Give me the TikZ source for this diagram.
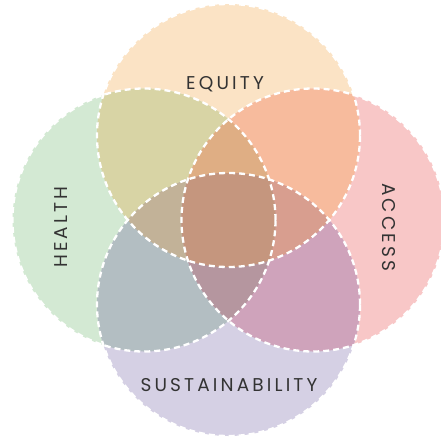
\documentclass[tikz,border=0pt]{standalone}
\usepackage{fontspec}
\newfontfamily\lblfont{Poppins}[LetterSpace=17]
\definecolor{cE}{HTML}{FBE3C5}
\definecolor{cH}{HTML}{D3E9D3}
\definecolor{cA}{HTML}{F8C7C7}
\definecolor{cS}{HTML}{D5D0E4}
\definecolor{cEH}{HTML}{D8D4A5}
\definecolor{cEA}{HTML}{F7BB9D}
\definecolor{cHS}{HTML}{B3BEC2}
\definecolor{cAS}{HTML}{CFA3BB}
\definecolor{cEHA}{HTML}{DFAE84}
\definecolor{cEHS}{HTML}{C2B298}
\definecolor{cEAS}{HTML}{D89E8F}
\definecolor{cHAS}{HTML}{B5969F}
\definecolor{cAll}{HTML}{C5967E}
\definecolor{txt}{HTML}{333333}
\begin{document}
\begin{tikzpicture}[x=1pt,y=-1pt,
  rim/.style={draw=white,line width=2.3pt,dash pattern=on 6pt off 4pt},
  lbl/.style={text=txt,font=\lblfont\fontsize{18.5}{18.5}\selectfont,inner sep=0pt}]
\useasboundingbox (0,0) rectangle (441,439);
\coordinate (E) at (228.5,135.5);
\coordinate (H) at (144,220);
\coordinate (A) at (313,220);
\coordinate (S) at (228.5,304.5);
% single circles
\fill[cE] (E) circle[radius=131.5pt];
\fill[cH] (H) circle[radius=131.5pt];
\fill[cA] (A) circle[radius=131.5pt];
\fill[cS] (S) circle[radius=131.5pt];
% pairs
\begin{scope}\clip (E) circle[radius=131.5pt]; \fill[cEH] (H) circle[radius=131.5pt];\end{scope}
\begin{scope}\clip (E) circle[radius=131.5pt]; \fill[cEA] (A) circle[radius=131.5pt];\end{scope}
\begin{scope}\clip (S) circle[radius=131.5pt]; \fill[cHS] (H) circle[radius=131.5pt];\end{scope}
\begin{scope}\clip (S) circle[radius=131.5pt]; \fill[cAS] (A) circle[radius=131.5pt];\end{scope}
% triples
\begin{scope}\clip (E) circle[radius=131.5pt]; \clip (H) circle[radius=131.5pt]; \fill[cEHA] (A) circle[radius=131.5pt];\end{scope}
\begin{scope}\clip (E) circle[radius=131.5pt]; \clip (H) circle[radius=131.5pt]; \fill[cEHS] (S) circle[radius=131.5pt];\end{scope}
\begin{scope}\clip (E) circle[radius=131.5pt]; \clip (A) circle[radius=131.5pt]; \fill[cEAS] (S) circle[radius=131.5pt];\end{scope}
\begin{scope}\clip (H) circle[radius=131.5pt]; \clip (A) circle[radius=131.5pt]; \fill[cHAS] (S) circle[radius=131.5pt];\end{scope}
% all four
\begin{scope}\clip (E) circle[radius=131.5pt]; \clip (H) circle[radius=131.5pt]; \clip (A) circle[radius=131.5pt]; \fill[cAll] (S) circle[radius=131.5pt];\end{scope}
% dashed white rims
\draw[rim] (E) circle[radius=131.5pt];
\draw[rim] (H) circle[radius=131.5pt];
\draw[rim] (A) circle[radius=131.5pt];
\draw[rim] (S) circle[radius=131.5pt];
% labels
\node[lbl] (lE) at (225,84.5) {EQUITY};
\node[lbl] (lS) at (229,385) {SUSTAINABILITY};
\node[lbl,rotate=90] (lH) at (61,227) {HEALTH};
\node[lbl,rotate=-90] (lA) at (389,227) {ACCESS};
\end{tikzpicture}
\end{document}
